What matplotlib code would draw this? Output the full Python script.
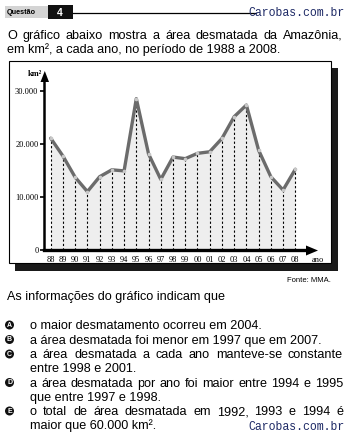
import matplotlib
matplotlib.use('Agg')
import matplotlib.pyplot as plt
from matplotlib.patches import Rectangle, Circle, Polygon

# ---- data ----
years = ['88', '89', '90', '91', '92', '93', '94', '95', '96', '97', '98',
         '99', '00', '01', '02', '03', '04', '05', '06', '07', '08']
area = [21050, 17700, 13700, 11000, 13800, 15100, 14900, 28500, 18100, 13300,
        17500, 17200, 18200, 18500, 21000, 25100, 27300, 18800, 13800, 11300, 15200]
yticks = [0, 10000, 20000, 30000]
ytick_labels = ['0', '10.000', '20.000', '30.000']

title_lines = ["O gráfico abaixo mostra a área desmatada da Amazônia,",
               "em km², a cada ano, no período de 1988 a 2008."]
question = "As informações do gráfico indicam que"
options = [
    ('A', ["o maior desmatamento ocorreu em 2004."]),
    ('B', ["a área desmatada foi menor em 1997 que em 2007."]),
    ('C', ["a área desmatada a cada ano manteve-se constante",
           "entre 1998 e 2001."]),
    ('D', ["a área desmatada por ano foi maior entre 1994 e 1995",
           "que entre 1997 e 1998."]),
    ('E', ["o total de área desmatada em 1992, 1993 e 1994 é",
           "maior que 60.000 km²."]),
]

W, H = 352, 438
fig = plt.figure(figsize=(W / 100, H / 100), dpi=100)
bg = fig.add_axes([0, 0, 1, 1])
bg.set_xlim(0, W)
bg.set_ylim(H, 0)
bg.axis('off')

SANS = ['Liberation Sans', 'DejaVu Sans']
SERIF = ['Liberation Serif', 'DejaVu Serif']
MONO = ['Liberation Mono', 'DejaVu Sans Mono']
BODY = 9.1
BASE = 4.4  # centre-to-baseline offset in px

renderer = fig.canvas.get_renderer()


def text_width(s, size, family):
    t = bg.text(0, 0, s, fontsize=size, family=family)
    w = t.get_window_extent(renderer=renderer).width
    t.remove()
    return w


def line(s, x, y, size=BODY, family=SANS):
    bg.text(x, y + BASE, s, fontsize=size, family=family, ha='left', va='baseline')


def justified(s, x0, x1, y, size=BODY, family=SANS):
    words = s.split(' ')
    widths = [text_width(w, size, family) for w in words]
    gap = (x1 - x0 - sum(widths)) / (len(words) - 1)
    x = x0
    for w, wd in zip(words, widths):
        bg.text(x, y + BASE, w, fontsize=size, family=family, ha='left', va='baseline')
        x += wd + gap


# ---- header ----
bg.add_patch(Rectangle((5, 6), 43, 12, fc='#d4d4d4', ec='none'))
bg.text(7, 12.5, 'Questão', fontsize=5.2, family=SANS, fontweight='bold',
        ha='left', va='center')
bg.add_patch(Rectangle((48, 5), 25, 14, fc='#111111', ec='none'))
bg.text(60, 12.5, '4', fontsize=7.5, family=SANS, fontweight='bold',
        color='white', ha='center', va='center')
bg.plot([73, 256], [12.5, 12.5], color='black', lw=0.9)
bg.text(345, 12.5, 'Carobas.com.br', fontsize=8.3, family=MONO,
        color='#1e2a66', ha='right', va='center')

# ---- title ----
justified(title_lines[0], 7, 343, 34.5)
line(title_lines[1], 7, 49)

# ---- chart frame ----
bg.add_patch(Rectangle((15, 68), 323, 203, fc='#1a1a1a', ec='none'))
bg.add_patch(Rectangle((9, 61), 322, 202, fc='white', ec='black', lw=0.8))

# ---- data axes ----
x0px, x1px, ytop, ybot = 44, 320, 68, 250
ppx = 12.23
ppy = 5.31 / 1000
ax = fig.add_axes([x0px / W, 1 - ybot / H, (x1px - x0px) / W, (ybot - ytop) / H])
ax.patch.set_alpha(0)
ax.set_xlim(-(50.7 - x0px) / ppx, (x1px - 50.7) / ppx)
ax.set_ylim(0, (ybot - ytop) / ppy)
xs = list(range(len(years)))
ax.fill_between(xs, area, 0, color='#eeeeee', lw=0)
ax.vlines(xs, 0, area, colors='black', linestyles=(0, (2, 2)), lw=0.8)
ax.plot(xs, area, color='#6b6b6b', lw=2.4, solid_joinstyle='round',
        solid_capstyle='round', marker='o', markersize=1.6,
        markerfacecolor='#c8c8c8', markeredgecolor='#c8c8c8')
for s in ['top', 'right']:
    ax.spines[s].set_visible(False)
ax.spines['left'].set_linewidth(1.8)
ax.spines['bottom'].set_linewidth(2.4)
ax.spines['left'].set_bounds(0, (ybot - 80) / ppy)
ax.spines['bottom'].set_bounds(ax.get_xlim()[0], (306 - 50.7) / ppx)
ax.set_xticks(xs)
ax.set_xticklabels(years, family=SERIF, fontsize=6)
ax.tick_params(axis='x', length=0, pad=4)
ax.set_yticks(yticks)
ax.set_yticklabels(ytick_labels, family=SERIF, fontsize=6)
ax.tick_params(axis='y', length=3, width=1.2, pad=1)

# arrows
bg.add_patch(Polygon([(40.5, 82), (49, 82), (44.8, 71)], closed=True, fc='black', ec='none'))
bg.add_patch(Polygon([(306, 245.5), (306, 255.5), (318, 250.5)], closed=True, fc='black', ec='none'))
bg.text(318, 259.5, 'ano', fontsize=6, family=SERIF, ha='center', va='center')
bg.text(35, 74, 'km²', fontsize=6, family=SERIF, fontweight='bold', ha='center', va='center')
bg.text(331, 281, 'Fonte: MMA.', fontsize=5.5, family=SANS, ha='right', va='center')

# ---- question ----
line(question, 7, 296)

ys = [325, 339.5, 354, 368, 382.5, 396.5, 411, 425]
k = 0
for letter, lines in options:
    y = ys[k]
    bg.add_patch(Circle((9.5, y), 4.5, fc='#111111', ec='none'))
    bg.text(9.5, y + 0.3, letter, fontsize=5, family=SANS, fontweight='bold',
            color='white', ha='center', va='center')
    for i, s in enumerate(lines):
        yy = ys[k]
        if i < len(lines) - 1:
            justified(s, 30, 343, yy)
        else:
            line(s, 30, yy)
        k += 1

bg.text(345, 427, 'Carobas.com.br', fontsize=8.3, family=MONO,
        color='#1e2a66', ha='right', va='center')

fig.savefig('out.png', dpi=100)
